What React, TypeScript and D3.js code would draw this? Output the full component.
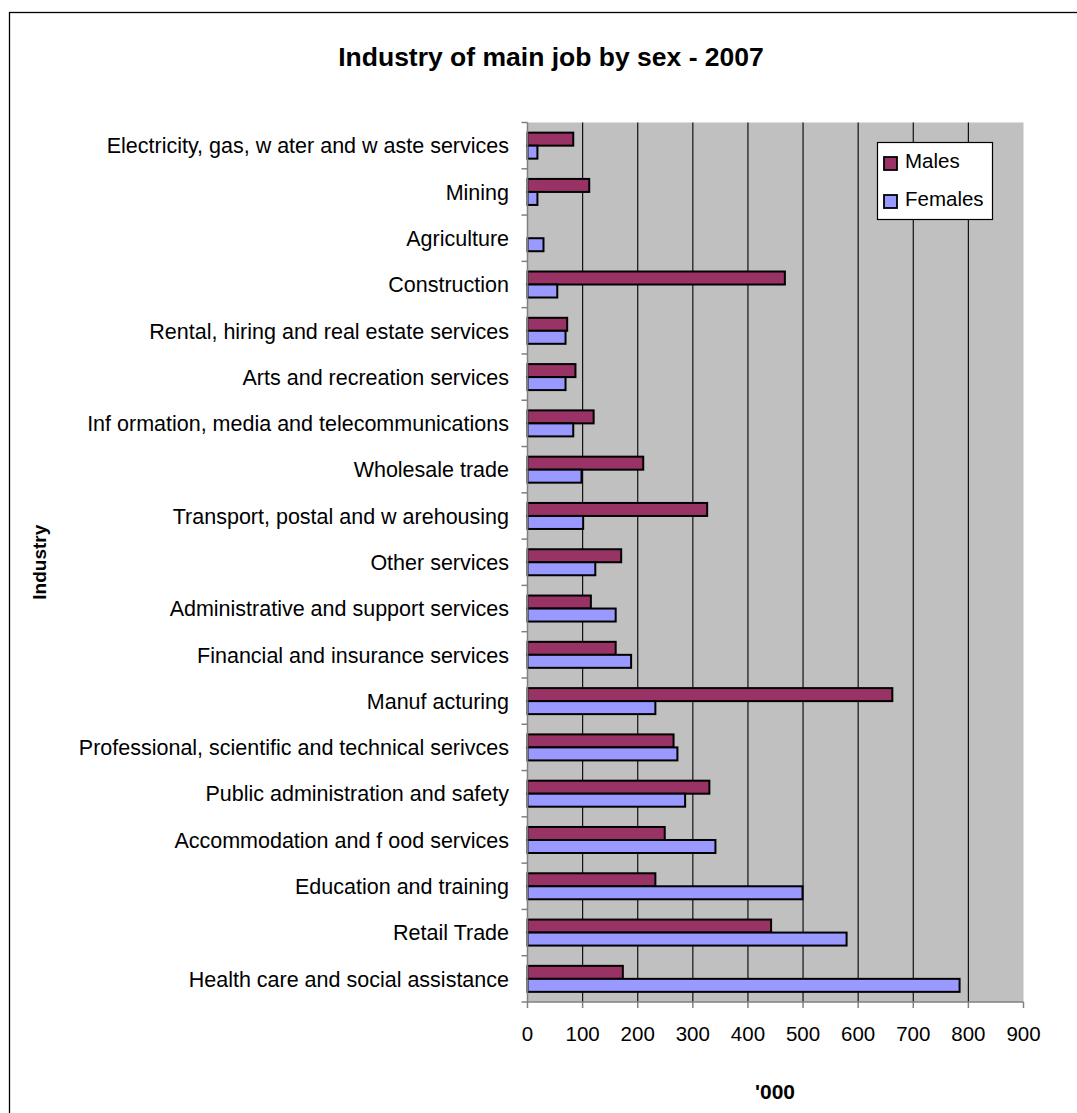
import React from "react";
import * as d3 from "d3";

const categories = [
  "Electricity, gas, w ater and w aste services",
  "Mining",
  "Agriculture",
  "Construction",
  "Rental, hiring and real estate services",
  "Arts and recreation services",
  "Inf ormation, media and telecommunications",
  "Wholesale trade",
  "Transport, postal and w arehousing",
  "Other services",
  "Administrative and support services",
  "Financial and insurance services",
  "Manuf acturing",
  "Professional, scientific and technical serivces",
  "Public administration and safety",
  "Accommodation and f ood services",
  "Education and training",
  "Retail Trade",
  "Health care and social assistance",
];

const males = [83, 112, 0, 467, 72, 87, 120, 210, 326, 170, 115, 160, 662, 265, 330, 249, 232, 442, 173];
const females = [18, 18, 29, 54, 69, 69, 83, 98, 101, 123, 160, 188, 232, 272, 286, 341, 499, 579, 784];

const seriesNames = ["Males", "Females"];
const seriesColors = ["#993366", "#9999FF"];
const xTicks = [0, 100, 200, 300, 400, 500, 600, 700, 800, 900];

const title = "Industry of main job by sex - 2007";
const yTitle = "Industry";
const xTitle = "'000";

const W = 1077;
const H = 1113;
const FONT = "'Liberation Sans', Arial, sans-serif";

export default function App() {
  const plotLeft = 527.5;
  const plotRight = 1023.5;
  const plotTop = 122.5;
  const plotBottom = 1002;

  const x = d3.scaleLinear().domain([0, 900]).range([plotLeft, plotRight]);
  const y = d3.scaleBand<string>().domain(categories).range([plotTop, plotBottom]).padding(0);
  const inner = d3
    .scaleBand<string>()
    .domain(seriesNames)
    .range([0, y.bandwidth()])
    .paddingInner(0)
    .paddingOuter(0.78);

  const series = [males, females];
  const boundaries = d3.range(categories.length + 1).map((i) => plotTop + i * y.step());

  return (
    <svg
      width={W}
      height={H}
      style={{ position: "absolute", left: 0, top: 0, background: "#fff" }}
      fontFamily={FONT}
    >
      <rect x={9.5} y={12.5} width={1200} height={1200} fill="#fff" stroke="#000" strokeWidth={1.3} />
      <text x={551} y={66} textAnchor="middle" fontSize={26.5} fontWeight="bold" fill="#000">
        {title}
      </text>

      {/* plot area */}
      <rect x={plotLeft} y={plotTop} width={plotRight - plotLeft} height={plotBottom - plotTop} fill="#C0C0C0" />
      {xTicks
        .filter((t) => t > 0 && t < 900)
        .map((t) => (
          <line key={"g" + t} x1={x(t)} x2={x(t)} y1={plotTop} y2={plotBottom} stroke="#111" strokeWidth={1.2} />
        ))}

      {/* bars */}
      {categories.map((c, i) =>
        seriesNames.map((s, j) => {
          const v = series[j][i];
          if (!v) return null;
          return (
            <rect
              key={c + s}
              x={x(0)}
              y={(y(c) as number) + (inner(s) as number)}
              width={x(v) - x(0)}
              height={inner.bandwidth()}
              fill={seriesColors[j]}
              stroke="#000"
              strokeWidth={2}
            />
          );
        })
      )}

      {/* y axis */}
      <line x1={plotLeft} x2={plotLeft} y1={plotTop} y2={plotBottom} stroke="#808080" strokeWidth={1.5} />
      {boundaries.map((b, i) => (
        <line key={"yt" + i} x1={plotLeft - 6} x2={plotLeft} y1={b} y2={b} stroke="#808080" strokeWidth={1.5} />
      ))}
      {categories.map((c) => (
        <text
          key={"l" + c}
          x={509}
          y={(y(c) as number) + y.bandwidth() / 2}
          dy="0.36em"
          textAnchor="end"
          fontSize={21.5}
          fill="#000"
        >
          {c}
        </text>
      ))}

      {/* x axis */}
      <line x1={plotLeft} x2={plotRight} y1={plotBottom} y2={plotBottom} stroke="#808080" strokeWidth={1.5} />
      {xTicks.map((t) => (
        <g key={"xt" + t}>
          <line x1={x(t)} x2={x(t)} y1={plotBottom} y2={plotBottom + 6} stroke="#808080" strokeWidth={1.5} />
          <text x={x(t)} y={1040.5} textAnchor="middle" fontSize={20.5} fill="#000">
            {t}
          </text>
        </g>
      ))}

      <text x={775} y={1099} textAnchor="middle" fontSize={21} fontWeight="bold" fill="#000">
        {xTitle}
      </text>
      <text
        transform={`translate(46,${(plotTop + plotBottom) / 2}) rotate(-90)`}
        textAnchor="middle"
        fontSize={19}
        fontWeight="bold"
        fill="#000"
      >
        {yTitle}
      </text>

      {/* legend */}
      <rect x={877.5} y={142.5} width={115} height={77} fill="#fff" stroke="#000" strokeWidth={1.2} />
      {seriesNames.map((s, j) => (
        <g key={"lg" + s}>
          <rect
            x={884}
            y={157 + j * 38}
            width={13}
            height={13}
            fill={seriesColors[j]}
            stroke="#000"
            strokeWidth={1.8}
          />
          <text x={905} y={168 + j * 37.5} fontSize={20.5} fill="#000">
            {s}
          </text>
        </g>
      ))}
    </svg>
  );
}
